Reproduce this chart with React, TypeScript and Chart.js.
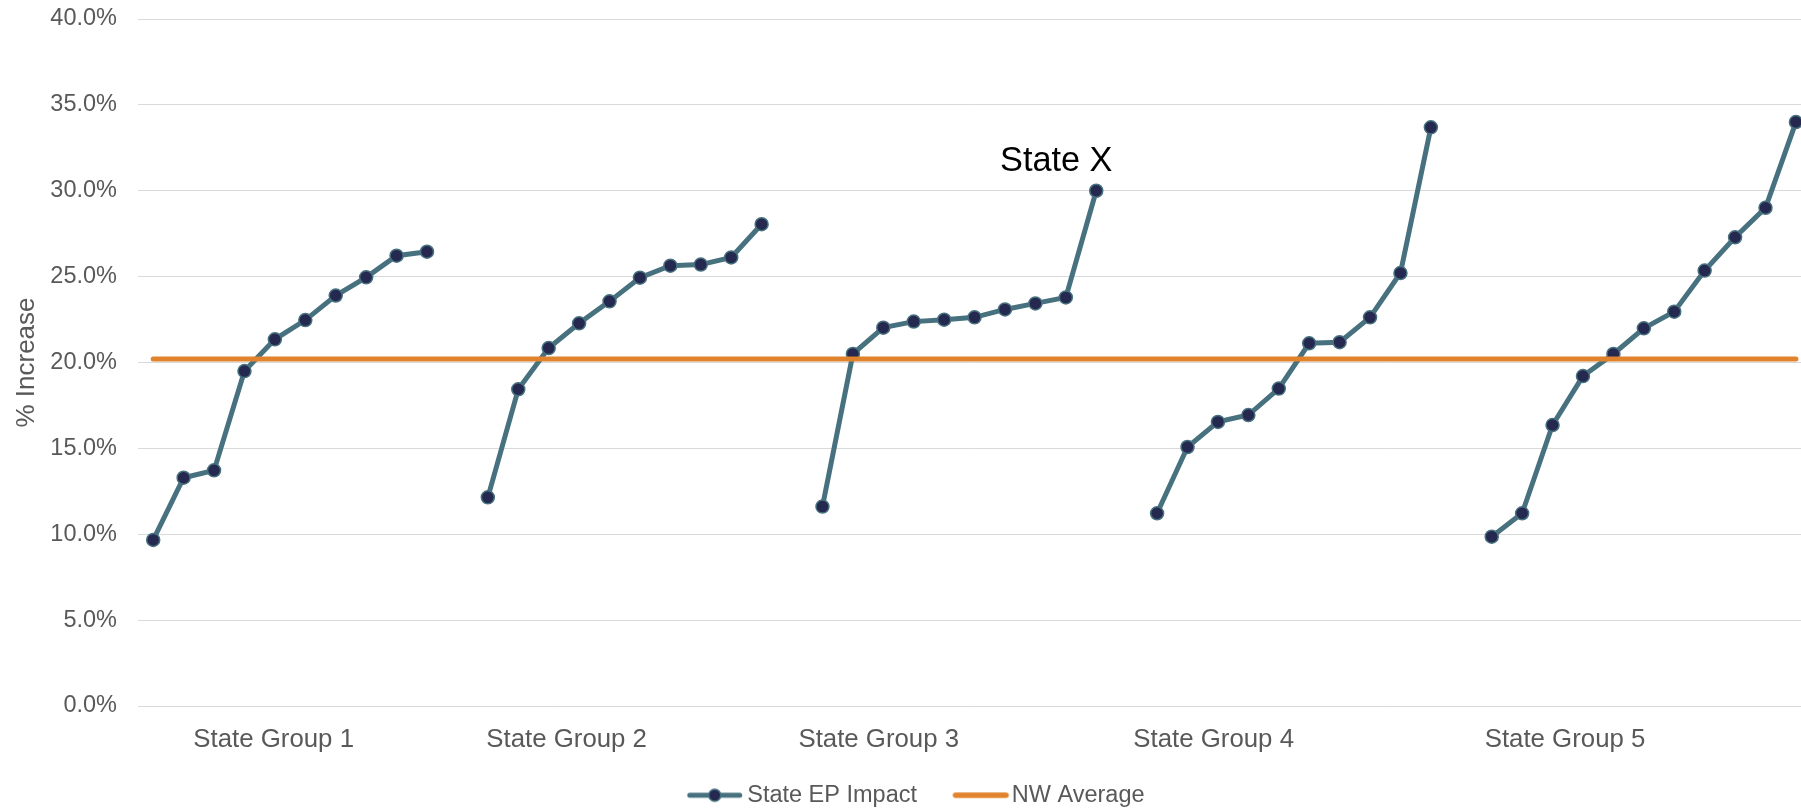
import React, { useEffect, useRef } from "react";
import { Chart, registerables } from "chart.js";

Chart.register(...registerables);

// ---- data ----
const groupNames = ["State Group 1", "State Group 2", "State Group 3", "State Group 4", "State Group 5"];
const groupLabelPositions = [3.96, 13.59, 23.85, 34.86, 46.41];
const group1 = [9.67, 13.29, 13.72, 19.5, 21.35, 22.47, 23.9, 24.96, 26.22, 26.45];
const group2 = [12.15, 18.44, 20.84, 22.28, 23.56, 24.94, 25.64, 25.7, 26.12, 28.05];
const group3 = [11.61, 20.5, 22.03, 22.38, 22.49, 22.63, 23.09, 23.44, 23.79, 30.0];
const group4 = [11.22, 15.08, 16.54, 16.94, 18.48, 21.12, 21.18, 22.63, 25.21, 33.69];
const group5 = [9.86, 11.22, 16.36, 19.21, 20.5, 21.99, 22.96, 25.35, 27.29, 29.01, 34.0];
const nwAverage = 20.2;
const groupStride = 11;
const categoryCount = 55;
const highlightLabel = "State X";
const highlightGroup = 2;
const highlightIndex = 9;
const yMin = 0;
const yMax = 40;
const yStep = 5;
const xMin = -0.5;
const xMax = 54.43;
const seriesNames = ["State EP Impact", "NW Average"];

// ---- styles ----
const FONT = "'Liberation Sans', Arial, Helvetica, sans-serif";
const W = 1817;
const H = 817;
const BLUE = "#47717F";
const NAVY = "#25284F";
const ORANGE = "#E1822D";
const GREY_TEXT = "#595959";
const LEG_BOX = 63;
const LEG_IMG_W = 90;

function legendImage(lineStartU: number, lineEndU: number, color: string, withDot: boolean, thick: number) {
  const c = document.createElement("canvas");
  c.width = LEG_IMG_W;
  c.height = 18;
  const g = c.getContext("2d")!;
  g.strokeStyle = color;
  g.lineWidth = thick;
  g.lineCap = "round";
  g.beginPath();
  g.moveTo(lineStartU + thick / 2, 9);
  g.lineTo(lineEndU - thick / 2, 9);
  g.stroke();
  if (withDot) {
    g.beginPath();
    g.arc((lineStartU + lineEndU) / 2, 9, 6, 0, Math.PI * 2);
    g.fillStyle = NAVY;
    g.fill();
    g.lineWidth = 1.5;
    g.stroke();
  }
  return c;
}

export default function App() {
  const ref = useRef<HTMLCanvasElement | null>(null);

  useEffect(() => {
    document.documentElement.style.overflow = "hidden";
    document.body.style.margin = "0";
    document.body.style.overflow = "hidden";

    const groups = [group1, group2, group3, group4, group5];
    const epPoints: { x: number; y: number | null }[] = [];
    groups.forEach((g, gi) => {
      g.forEach((v, j) => epPoints.push({ x: gi * groupStride + j, y: v }));
      if (gi < groups.length - 1) epPoints.push({ x: gi * groupStride + g.length, y: null });
    });
    const nwPoints: { x: number; y: number }[] = [];
    for (let i = 0; i < categoryCount; i++) nwPoints.push({ x: i, y: nwAverage });
    const hlX = highlightGroup * groupStride + highlightIndex;
    const hlIdx = epPoints.findIndex((p) => p.x === hlX);

    // legend images: image centred on box centre; local u = X - boxLeft + (LEG_IMG_W - LEG_BOX)/2
    const shift = (LEG_IMG_W - LEG_BOX) / 2;
    const textStart = LEG_BOX + 23.5 / 2;
    const img1 = legendImage(textStart - 5 - 55 + shift, textStart - 5 + shift, BLUE, true, 5);
    const img2 = legendImage(textStart - 3 - 56 + shift, textStart - 3 + shift, ORANGE, false, 5.5);

    const labelPlugin = {
      id: "stateXLabel",
      afterDatasetsDraw(chart: any) {
        const meta = chart.getDatasetMeta(0);
        const el = meta.data[hlIdx];
        if (!el) return;
        const ctx = chart.ctx;
        ctx.save();
        ctx.font = `34.3px ${FONT}`;
        ctx.fillStyle = "#000000";
        ctx.textAlign = "center";
        ctx.textBaseline = "alphabetic";
        ctx.fillText(highlightLabel, el.x - 40, el.y - 20);
        ctx.restore();
      },
    };

    const chart = new Chart(ref.current!, {
      type: "line",
      data: {
        datasets: [
          {
            label: seriesNames[0],
            data: epPoints as any,
            borderColor: BLUE,
            borderWidth: 5,
            backgroundColor: NAVY,
            pointBackgroundColor: NAVY,
            pointBorderColor: BLUE,
            pointBorderWidth: 1.5,
            pointRadius: 6.5,
            pointHoverRadius: 6.5,
            spanGaps: false,
            tension: 0,
            order: 1,
          },
          {
            label: seriesNames[1],
            data: nwPoints as any,
            borderColor: ORANGE,
            borderWidth: 5,
            borderCapStyle: "round",
            pointRadius: 0,
            pointHoverRadius: 0,
            tension: 0,
            order: 0,
          },
        ],
      },
      options: {
        responsive: false,
        devicePixelRatio: 1,
        animation: false,
        parsing: false as any,
        layout: { padding: { left: 0, right: 0, top: 19, bottom: 0 } },
        scales: {
          x: {
            type: "linear",
            min: xMin,
            max: xMax,
            grid: { display: false, drawTicks: false },
            border: { display: false },
            afterBuildTicks: (scale: any) => {
              scale.ticks = groupLabelPositions.map((v) => ({ value: v }));
            },
            afterFit: (scale: any) => {
              scale.height = 57.5;
              scale.paddingLeft = 0;
              scale.paddingRight = 0;
            },
            ticks: {
              autoSkip: false,
              maxRotation: 0,
              minRotation: 0,
              padding: 18,
              color: GREY_TEXT,
              font: { size: 25.8, family: FONT },
              callback: (_v: any, i: number) => groupNames[i],
            },
          },
          y: {
            min: yMin,
            max: yMax,
            grid: { color: "#D9D9D9", lineWidth: 1, drawTicks: false },
            border: { display: false },
            afterFit: (scale: any) => {
              scale.width = 138;
              scale.paddingTop = 0;
              scale.paddingBottom = 0;
            },
            ticks: {
              stepSize: yStep,
              padding: 21,
              color: GREY_TEXT,
              font: { size: 23.5, family: FONT },
              callback: (v: any) => Number(v).toFixed(1) + "%",
            },
            title: {
              display: true,
              text: "% Increase",
              color: GREY_TEXT,
              font: { size: 26, family: FONT, lineHeight: 1 },
              padding: { top: 14, bottom: 0 },
            },
          },
        },
        plugins: {
          tooltip: { enabled: false },
          legend: {
            position: "bottom",
            labels: {
              usePointStyle: true,
              pointStyleWidth: LEG_BOX,
              padding: 20,
              color: GREY_TEXT,
              font: { size: 23.5, family: FONT },
              generateLabels: () => [
                {
                  text: seriesNames[0],
                  pointStyle: img1 as any,
                  fillStyle: NAVY,
                  strokeStyle: BLUE,
                  lineWidth: 0,
                  fontColor: GREY_TEXT,
                  hidden: false,
                  datasetIndex: 0,
                },
                {
                  text: seriesNames[1],
                  pointStyle: img2 as any,
                  fillStyle: ORANGE,
                  strokeStyle: ORANGE,
                  lineWidth: 0,
                  fontColor: GREY_TEXT,
                  hidden: false,
                  datasetIndex: 1,
                },
              ],
            },
          },
        },
      },
      plugins: [labelPlugin],
    });

    return () => chart.destroy();
  }, []);

  return (
    <div style={{ width: W, height: H, position: "relative" }}>
      <canvas ref={ref} width={W} height={H} style={{ display: "block", width: W, height: H }} />
    </div>
  );
}
